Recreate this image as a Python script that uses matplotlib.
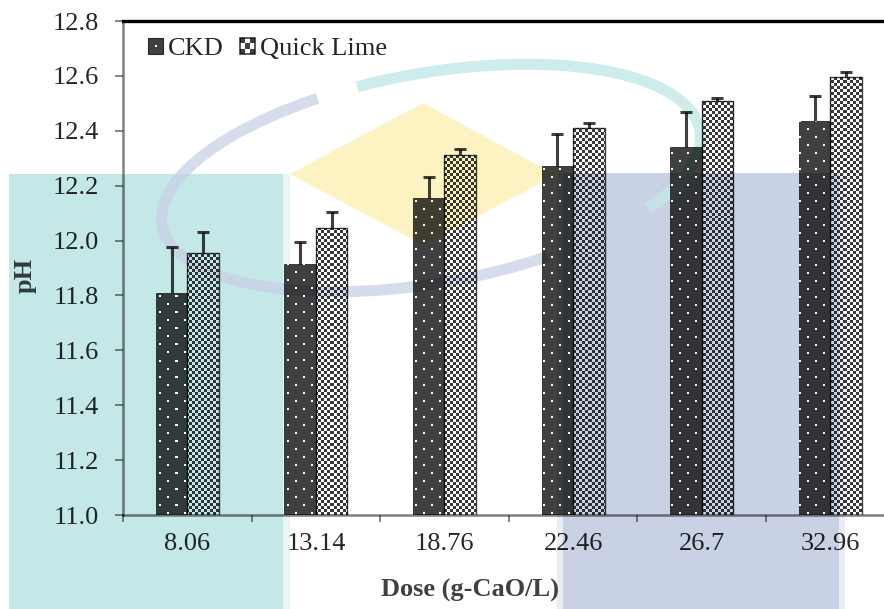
import matplotlib
matplotlib.use("Agg")
import matplotlib.pyplot as plt
import numpy as np
from matplotlib.patches import Rectangle, Polygon, Arc, Circle
from matplotlib.legend_handler import HandlerBase

# ---------------- data ----------------
doses = ["8.06", "13.14", "18.76", "22.46", "26.7", "32.96"]
ckd_ph = [11.81, 11.915, 12.155, 12.27, 12.34, 12.435]
ckd_err = [0.165, 0.08, 0.078, 0.12, 0.13, 0.09]
lime_ph = [11.955, 12.045, 12.312, 12.41, 12.508, 12.597]
lime_err = [0.076, 0.06, 0.02, 0.02, 0.01, 0.016]
series_names = ["CKD", "Quick Lime"]
yticks = [11.0, 11.2, 11.4, 11.6, 11.8, 12.0, 12.2, 12.4, 12.6, 12.8]

plt.rcParams["font.family"] = ["Liberation Serif", "DejaVu Serif"]
FS = 19
GRAY = (0, 0, 0, 0.75)
TXT = (0, 0, 0, 0.85)
LGRAY = (0, 0, 0, 0.5)

W, H = 884, 609
fig = plt.figure(figsize=(W / 100, H / 100), dpi=100, facecolor="white")

# ---------------- watermark (background) ----------------
bg = fig.add_axes([0, 0, 1, 1], zorder=0)
bg.set_xlim(0, W)
bg.set_ylim(H, 0)
bg.axis("off")
teal = "#c4e8e8"
blue = "#c9d1e5"
yellow = "#fdf3c2"
bg.add_patch(Rectangle((9, 174), 274, 440, color=teal, lw=0))
bg.add_patch(Rectangle((283, 174), 7, 440, color=teal, alpha=0.4, lw=0))
bg.add_patch(Rectangle((563, 173), 276, 440, color=blue, lw=0))
bg.add_patch(Rectangle((557, 173), 6, 440, color=blue, alpha=0.4, lw=0))
bg.add_patch(Rectangle((839, 173), 6, 440, color=blue, alpha=0.4, lw=0))
bg.add_patch(Polygon([(290, 174), (423, 103), (556, 175), (423, 245)],
                     closed=True, color=yellow, lw=0))
bg.add_patch(Arc((431, 178), 546, 210, angle=-10, theta1=44, theta2=225,
                 color=blue, lw=8, alpha=0.75))
bg.add_patch(Arc((431, 178), 546, 210, angle=-10, theta1=241, theta2=18,
                 color=teal, lw=8, alpha=0.8))

# ---------------- main axes ----------------
ax_l, ax_r, ax_t, ax_b = 123, 894.6, 21, 515
axw, axh = ax_r - ax_l, ax_b - ax_t
ax = fig.add_axes([ax_l / W, (H - ax_b) / H, axw / W, axh / H], zorder=1)
ax.set_facecolor("none")

x = np.arange(len(doses))
bw = 0.245
off = 0.1225

ckd_bars = ax.bar(x - off, [v - 11.0 for v in ckd_ph], bottom=11.0, width=bw,
                  facecolor=GRAY, edgecolor=GRAY, linewidth=0.6, zorder=2)
lime_bars = ax.bar(x + off, [v - 11.0 for v in lime_ph], bottom=11.0, width=bw,
                   facecolor="none", edgecolor=GRAY, linewidth=1.0, zorder=3)

# dotted texture for CKD (white dots)
nx1, ny1 = int(round(axw)), int(round(axh))
dots = np.zeros((ny1, nx1, 4))
for k, yy in enumerate(range(3, ny1 - 1, 8)):
    start = 4 + (8 if k % 2 else 0)
    for xx in range(start, nx1 - 1, 16):
        dots[yy:yy + 2, xx:xx + 2, :] = 1.0
for b in ckd_bars:
    im = ax.imshow(dots, extent=(0, 1, 0, 1), transform=ax.transAxes,
                   interpolation="nearest", aspect="auto", zorder=2.2)
    im.set_clip_path(b)

# checkerboard fill for Quick Lime (light cells transparent)
cell = 3
nx, ny = int(round(axw / cell)), int(round(axh / cell))
ii, jj = np.meshgrid(np.arange(nx), np.arange(ny))
chk = np.zeros((ny, nx, 4))
chk[..., 3] = ((ii + jj) % 2 == 0).astype(float) * 0.78
for b in lime_bars:
    im = ax.imshow(chk, extent=(0, 1, 0, 1), transform=ax.transAxes,
                   interpolation="nearest", aspect="auto", zorder=2.5)
    im.set_clip_path(b)

# error bars (upper only)
for xs, ys, es in [(x - off, ckd_ph, ckd_err), (x + off, lime_ph, lime_err)]:
    eb = ax.errorbar(xs, ys, yerr=[np.zeros(len(es)), es], fmt="none",
                     ecolor=GRAY, elinewidth=2.2, capsize=4.5, capthick=2.2,
                     zorder=4)
    caps = eb[1]
    if len(caps) >= 2:
        caps[0].set_visible(False)

ax.set_xlim(-0.5, len(doses) - 0.5)
ax.set_ylim(11.0, 12.8)
ax.set_yticks(yticks)
ax.set_yticklabels([f"{v:.1f}" for v in yticks])
ax.set_xticks(x)
ax.set_xticklabels(doses)
ax.set_xticks(np.arange(len(doses) + 1) - 0.5, minor=True)

ax.tick_params(axis="x", which="major", length=0, pad=13, labelsize=FS,
               labelcolor=TXT)
ax.tick_params(axis="x", which="minor", length=5, width=1.3, color=LGRAY,
               direction="out")
ax.tick_params(axis="y", which="major", length=6, width=1.3, color=LGRAY,
               direction="out", pad=11, labelsize=FS, labelcolor=TXT)

for s in ["left", "bottom"]:
    ax.spines[s].set_color(LGRAY)
    ax.spines[s].set_linewidth(1.8)
ax.spines["top"].set_color("black")
ax.spines["top"].set_linewidth(2.4)
ax.spines["right"].set_visible(False)

ax.set_xlabel("Dose (g-CaO/L)", fontsize=FS, fontweight="bold", color=GRAY)
ax.xaxis.set_label_coords((470 - ax_l) / axw, -(579 - ax_b) / axh)
ax.xaxis.label.set_va("top")
ax.set_ylabel("pH", fontsize=FS, fontweight="bold", color=GRAY)
ax.yaxis.set_label_coords((25 - ax_l) / axw, (ax_b - 275) / axh)
ax.yaxis.label.set_va("center")
ax.yaxis.label.set_ha("center")


# ---------------- legend ----------------
class CKDHandler(HandlerBase):
    def create_artists(self, legend, orig_handle, xdescent, ydescent, width,
                       height, fontsize, trans):
        x0, y0 = -xdescent, -ydescent
        r = Rectangle((x0, y0), width, height, facecolor=GRAY, edgecolor=GRAY,
                      lw=0.8, transform=trans)
        d = Rectangle((x0 + width * 0.45, y0 + height * 0.45), width * 0.14,
                      height * 0.14, facecolor="white", lw=0, transform=trans)
        return [r, d]


class LimeHandler(HandlerBase):
    def create_artists(self, legend, orig_handle, xdescent, ydescent, width,
                       height, fontsize, trans):
        x0, y0 = -xdescent, -ydescent
        arts = [Rectangle((x0, y0), width, height, facecolor="white",
                          edgecolor=GRAY, lw=1.2, transform=trans)]
        n = 3
        cw, chh = width / n, height / n
        for i in range(n):
            for j in range(n):
                if (i + j) % 2 == 0:
                    arts.append(Rectangle((x0 + i * cw, y0 + j * chh), cw, chh,
                                          facecolor=GRAY, lw=0, transform=trans))
        return arts


leg = ax.legend([ckd_bars, lime_bars], series_names, ncol=2, loc="upper left",
                bbox_to_anchor=((148 - ax_l) / axw, (ax_b - 38) / axh),
                frameon=False, fontsize=FS, borderpad=0, borderaxespad=0,
                handlelength=0.57, handleheight=0.57, handletextpad=0.2,
                columnspacing=0.6,
                handler_map={ckd_bars: CKDHandler(), lime_bars: LimeHandler()})
for t in leg.get_texts():
    t.set_color(TXT)

fig.savefig("out.png", dpi=100, facecolor="white")
